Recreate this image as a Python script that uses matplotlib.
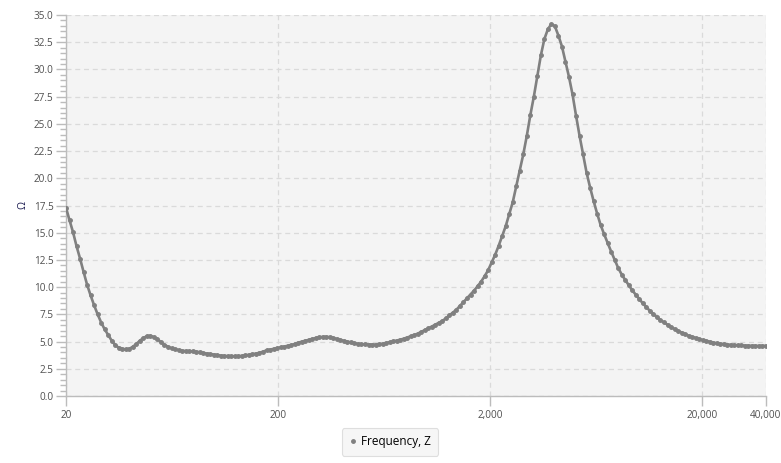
import numpy as np
import matplotlib
matplotlib.use("Agg")
import matplotlib.pyplot as plt
from matplotlib.ticker import FixedLocator, FixedFormatter, MultipleLocator, NullLocator

# ---- data ----
F_START = 20.0
F_END = 40000.0
impedance = [
    17.3, 16.15, 15.05, 13.76, 12.62, 11.4, 10.22, 9.24, 8.33, 7.5,
    6.75, 6.12, 5.61, 5.08, 4.68, 4.43, 4.33, 4.28, 4.34, 4.52,
    4.78, 5.08, 5.33, 5.5, 5.53, 5.41, 5.24, 4.93, 4.71, 4.52,
    4.38, 4.29, 4.22, 4.16, 4.13, 4.12, 4.1, 4.07, 4.02, 3.95,
    3.9, 3.86, 3.8, 3.75, 3.71, 3.68, 3.66, 3.65, 3.65, 3.66,
    3.68, 3.73, 3.78, 3.84, 3.9, 3.96, 4.07, 4.19, 4.26, 4.33,
    4.4, 4.46, 4.53, 4.6, 4.68, 4.77, 4.89, 4.99, 5.07, 5.15,
    5.24, 5.33, 5.39, 5.43, 5.44, 5.4, 5.33, 5.24, 5.15, 5.07,
    4.99, 4.92, 4.85, 4.79, 4.76, 4.74, 4.73, 4.73, 4.73, 4.76,
    4.8, 4.87, 4.94, 5.01, 5.09, 5.17, 5.26, 5.37, 5.47, 5.6,
    5.73, 5.89, 6.05, 6.22, 6.38, 6.55, 6.73, 6.9, 7.14, 7.4,
    7.66, 7.93, 8.28, 8.63, 8.98, 9.32, 9.68, 10.08, 10.5, 11.0,
    11.55, 12.27, 12.97, 13.8, 14.7, 15.6, 16.7, 17.8, 19.26, 20.7,
    22.2, 23.9, 25.8, 27.5, 29.4, 31.3, 32.8, 33.7, 34.18, 33.95,
    33.1, 32.1, 30.7, 29.3, 27.7, 25.75, 23.9, 22.2, 20.5, 19.15,
    17.9, 16.75, 15.7, 14.85, 14.05, 13.25, 12.5, 11.75, 11.15, 10.65,
    10.17, 9.7, 9.3, 8.89, 8.5, 8.17, 7.81, 7.52, 7.25, 6.97,
    6.76, 6.55, 6.34, 6.15, 5.98, 5.83, 5.67, 5.54, 5.43, 5.33,
    5.23, 5.14, 5.06, 4.99, 4.91, 4.84, 4.8, 4.76, 4.73, 4.7,
    4.68, 4.66, 4.64, 4.63, 4.62, 4.61, 4.6, 4.6, 4.6, 4.61,
]
x_ticks = [20, 200, 2000, 20000, 40000]
x_tick_labels = ["20", "200", "2,000", "20,000", "40,000"]
series_name = "Frequency, Z"
y_label = "Ω"

frequency = np.geomspace(F_START, F_END, len(impedance))

# ---- figure ----
plt.rcParams['font.family'] = ['Open Sans', 'DejaVu Sans']
W, H = 781, 463
fig = plt.figure(figsize=(W / 100, H / 100), dpi=100)
ax = fig.add_axes([66 / W, 1 - 396 / H, 700 / W, 381 / H])
ax.set_facecolor('#f4f4f4')

line_color = '#808080'
ax.plot(frequency, impedance, color=line_color, lw=1.9, marker='o', ms=2.5,
        mec=line_color, mfc=line_color, label=series_name, zorder=3)

ax.set_xscale('log')
ax.set_xlim(F_START, F_END)
ax.set_ylim(0, 35)

ax.xaxis.set_major_locator(FixedLocator(x_ticks))
ax.xaxis.set_major_formatter(FixedFormatter(x_tick_labels))
ax.xaxis.set_minor_locator(NullLocator())
ax.yaxis.set_major_locator(MultipleLocator(2.5))
ax.yaxis.set_minor_locator(MultipleLocator(0.5))
ax.yaxis.set_major_formatter(matplotlib.ticker.FormatStrFormatter('%.1f'))

ax.grid(True, which='major', color='#dadada', ls=(0, (4, 3)), lw=0.9, zorder=0)
ax.set_axisbelow(True)

for s in ['top', 'right']:
    ax.spines[s].set_visible(False)
for s in ['left', 'bottom']:
    ax.spines[s].set_color('#bcbcbc')
    ax.spines[s].set_linewidth(1.0)

ax.tick_params(axis='both', which='major', colors='#bcbcbc', labelcolor='#505050',
               labelsize=7.2, length=7, width=1.0)
ax.tick_params(axis='y', which='minor', colors='#bcbcbc', length=4, width=1.0)
ax.tick_params(axis='x', which='major', pad=3)
ax.tick_params(axis='y', which='major', pad=2)

fig.text(23 / W, 1 - 205 / H, y_label, rotation=90, ha='center', va='center',
         fontsize=7.5, color='#1a1a50')

leg = fig.legend(loc='center', bbox_to_anchor=(390 / W, 1 - 442 / H), frameon=True,
                 fontsize=8.5, handlelength=0.6, handletextpad=0.4, borderpad=0.6,
                 markerscale=1.0, fancybox=True)
leg.get_frame().set_facecolor('#f4f4f4')
leg.get_frame().set_edgecolor('#d8d8d8')
leg.get_frame().set_linewidth(0.8)
for h in leg.legend_handles:
    h.set_linestyle('none')

fig.savefig('out.png', dpi=100)
